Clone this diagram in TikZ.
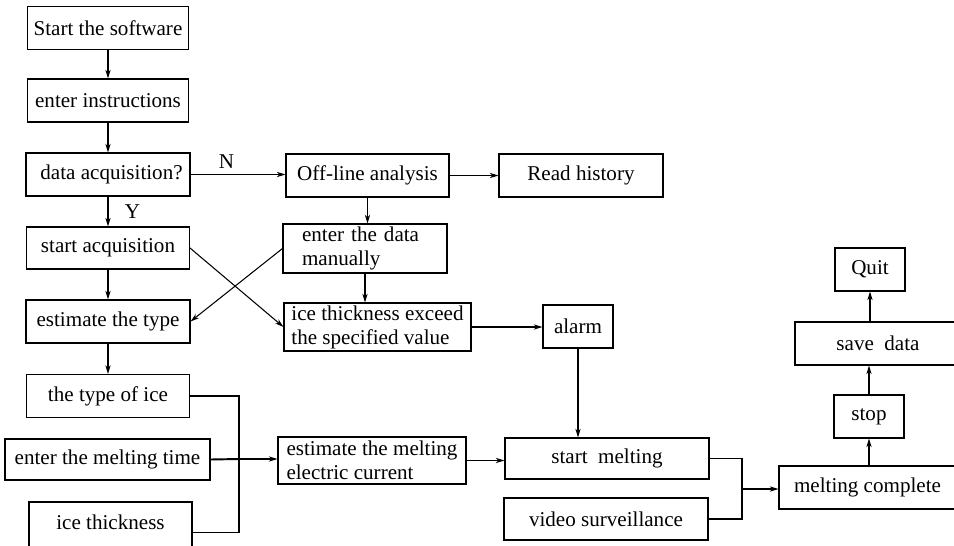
\documentclass[tikz,border=0pt]{standalone}
\usepackage{fontspec}
\setmainfont{Liberation Serif}
\usetikzlibrary{arrows.meta}

\begin{document}
\begin{tikzpicture}[x=0.02cm,y=-0.02cm,
    font=\fontsize{12}{13.7}\selectfont,
    line width=0.6pt,
    box/.style={shape=rectangle,draw=black,inner sep=0pt,minimum height=0.86cm},
    flow/.style={-{Stealth[length=5pt,width=3pt]}}]
    \useasboundingbox (0,0) rectangle (954,545);

    \node[box,minimum width=3.22cm] (S) at (108,28) {Start the software};
    \node[box,minimum width=3.22cm] (I) at (108,100.5) {enter instructions};
    \node[box,minimum width=3.28cm] (D) at (108,174.5) {\hspace{4pt}data acquisition?};
    \node[box,minimum width=3.26cm,minimum height=0.84cm] (A) at (108,248) {start acquisition};
    \node[box,minimum width=3.28cm] (T) at (108,321.5) {estimate the type};
    \node[box,minimum width=3.26cm] (Ty) at (108,396) {the type of ice};
    \node[box,minimum width=4.1cm,minimum height=0.82cm] (M) at (107.5,459.5) {enter the melting time};
    \node[box,minimum width=3.26cm,minimum height=1cm] (Th) at (110.5,527) {\raisebox{6pt}{ice thickness}};

    \node[box,minimum width=3.26cm] (O) at (367.5,175.5) {Off-line analysis};
    \node[box,minimum width=3.28cm] (R) at (581,175.5) {Read history};
    \node[box,text width=2.52cm,inner xsep=0.38cm,minimum height=0.98cm,align=left] (Mn) at (365,248.5) {enter the data\\manually};
    \node[box,minimum width=3.74cm,minimum height=0.96cm,align=left] (Ex) at (377.5,327) {ice thickness exceed\\the specified value};
    \node[box,minimum width=1.4cm] (Al) at (578,326.5) {alarm};
    \node[box,minimum width=3.76cm,minimum height=0.94cm,align=left] (E) at (372,460.5) {estimate the melting\\electric current};

    \node[box,minimum width=4.08cm,minimum height=0.82cm] (SM) at (607,458.5) {start\ \ melting};
    \node[box,minimum width=4.08cm,minimum height=0.84cm] (V) at (606,519) {video surveillance};
    \node[box,minimum width=3.54cm] (MC) at (867.5,487.5) {melting complete};
    \node[box,minimum width=1.4cm] (St) at (869,416.5) {stop};
    \node[box,minimum width=3.32cm] (SD) at (878,343.5) {save\ \ data};
    \node[box,minimum width=1.4cm] (Q) at (870,269.5) {Quit\hspace{6pt}};

    \coordinate (J) at (239,459);
    \coordinate (K) at (742,489);

    \path [flow] (S) edge (I);
    \path [flow] (I) edge (D);
    \path [flow] (D) edge node[right,xshift=6pt] {Y} (A);
    \path [flow] (A) edge (T);
    \path [flow] (T) edge (Ty);
    \path [flow] (D.east) edge node[above,pos=0.38] {N} (D.east -| O.west);
    \path [flow] (O.east) edge (O.east -| R.west);
    \path [flow] (O.south) edge (O.south |- Mn.north);
    \path [flow] (Mn.south) edge (Mn.south |- Ex.north);
    \path [flow] (A.east) edge (Ex.west);
    \path [flow] (Mn.west) edge (T.east);
    \path [flow] (Ex.east) edge (Ex.east -| Al.west);
    \path [flow] (Al.south) edge (Al.south |- SM.north);

    \draw (Ty.east) -| (J);
    \draw ([yshift=-3pt]Th.east) -| (J);
    \draw[line width=1.1pt] (M.east) -- (J);
    \path [flow] (J) edge (J -| E.west);
    \path [flow] (E.east) edge (E.east -| SM.west);

    \draw (SM.east) -| (K);
    \draw (V.east) -| (K);
    \path [flow] (K) edge (K -| MC.west);
    \path [flow] (MC.north -| St) edge (St.south);
    \path [flow] (St.north) edge (St.north |- SD.south);
    \path [flow] (SD.north -| Q) edge (Q.south);
\end{tikzpicture}
\end{document}
